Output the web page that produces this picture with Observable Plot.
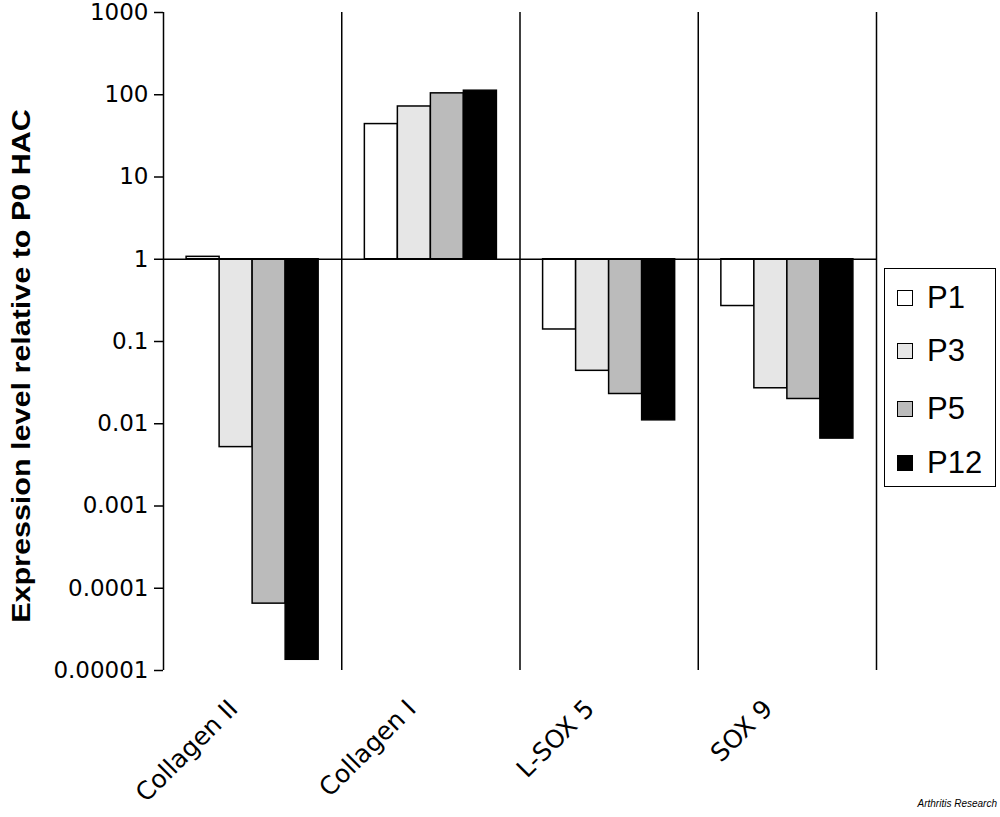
<!DOCTYPE html>
<html>
<head>
<meta charset="utf-8">
<script src="https://cdn.jsdelivr.net/npm/d3@7"></script>
<script src="https://cdn.jsdelivr.net/npm/@observablehq/plot@0.6"></script>
<style>
  html, body { margin: 0; padding: 0; background: #fff; }
  #wrap { position: relative; width: 1000px; height: 817px; overflow: hidden; }
  #ytitle {
    position: absolute; left: 21px; top: 366px;
    font-family: "Liberation Sans", Arial, sans-serif; font-weight: bold; font-size: 25px;
    white-space: nowrap; color: #000;
    transform: translate(-50%, -50%) rotate(-90deg) scaleX(1.22);
  }
  #legend {
    position: absolute; left: 884px; top: 268px; width: 112px; height: 219px;
    box-sizing: border-box; border: 1.5px solid #000; background: #fff;
    font-family: "Liberation Sans", Arial, sans-serif; font-size: 31px; color: #000;
  }
  .item { position: absolute; left: 12px; display: flex; align-items: center; height: 36px; }
  .sw { width: 14px; height: 14px; border: 1px solid #000; margin-right: 14px; }
  #credit {
    position: absolute; right: 3px; top: 798px;
    font-family: "Liberation Sans", Arial, sans-serif; font-style: italic; font-size: 10px; color: #000;
  }
</style>
</head>
<body>
<div id="wrap">
  <div id="chart"></div>
  <div id="ytitle">Expression level relative to P0 HAC</div>
  <div id="legend"></div>
  <div id="credit">Arthritis Research</div>
</div>
<script>
// ---- data ----
const genes = ["Collagen II", "Collagen I", "L-SOX 5", "SOX 9"];
const passages = ["P1", "P3", "P5", "P12"];
const valuesP1  = [1.07, 44, 0.14, 0.27];
const valuesP3  = [0.0052, 72, 0.044, 0.027];
const valuesP5  = [0.000065, 104, 0.023, 0.020];
const valuesP12 = [0.0000135, 112, 0.011, 0.0066];
const passageColors = ["#ffffff", "#e6e6e6", "#bbbbbb", "#000000"];
const yTicks = [0.00001, 0.0001, 0.001, 0.01, 0.1, 1, 10, 100, 1000];
const yTickLabels = ["0.00001", "0.0001", "0.001", "0.01", "0.1", "1", "10", "100", "1000"];

const series = [valuesP1, valuesP3, valuesP5, valuesP12];
const rows = [];
genes.forEach((g, gi) => passages.forEach((p, pi) => rows.push({gene: g, gi, passage: p, value: series[pi][gi]})));

// within-group band layout
const inner = d3.scaleBand().domain(passages).range([0, 1]).paddingInner(0).paddingOuter(0.7);
const groupCenters = genes.map((g, i) => i + 0.5);
const separators = genes.map((g, i) => i + 1);

const chart = Plot.plot({
  width: 1000,
  height: 817,
  marginLeft: 163,
  marginRight: 124,
  marginTop: 12,
  marginBottom: 147,
  style: {fontFamily: "'DejaVu Sans', sans-serif", background: "#fff", color: "#000"},
  x: {type: "linear", domain: [0, genes.length]},
  y: {type: "log", domain: [1e-5, 1000]},
  color: {domain: passages, range: passageColors},
  marks: [
    Plot.rectY(rows, {
      x1: d => d.gi + inner(d.passage),
      x2: d => d.gi + inner(d.passage) + inner.bandwidth(),
      y1: 1,
      y2: "value",
      fill: "passage",
      stroke: "#000",
      strokeWidth: 1.5
    }),
    Plot.ruleY([1], {x1: 0, x2: genes.length, stroke: "#000", strokeWidth: 1.5}),
    Plot.ruleX(separators, {y1: 1e-5, y2: 1000, stroke: "#000", strokeWidth: 1.5}),
    Plot.ruleX([0], {y1: 1e-5, y2: 1000, stroke: "#000", strokeWidth: 1.5}),
    Plot.axisY(yTicks, {
      tickFormat: d => yTickLabels[yTicks.indexOf(d)],
      tickSize: 9, tickPadding: 6, fontSize: 23, strokeWidth: 1.5, label: null
    }),
    Plot.axisX(groupCenters, {
      tickFormat: d => genes[Math.floor(d)],
      tickSize: 0, tickPadding: 34, tickRotate: -45, fontSize: 25, dx: -19, label: null
    })
  ]
});
document.getElementById("chart").appendChild(chart);

// legend
const legend = document.getElementById("legend");
const rowTops = [11, 64, 122, 176];
passages.forEach((p, i) => {
  const it = document.createElement("div");
  it.className = "item";
  it.style.top = rowTops[i] + "px";
  const sw = document.createElement("div");
  sw.className = "sw";
  sw.style.background = passageColors[i];
  const tx = document.createElement("span");
  tx.textContent = p;
  it.appendChild(sw); it.appendChild(tx);
  legend.appendChild(it);
});
</script>
</body>
</html>
